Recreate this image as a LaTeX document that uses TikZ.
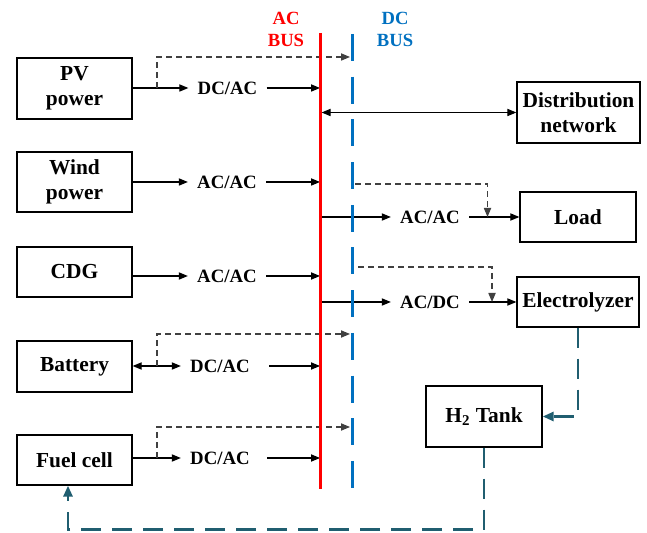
\documentclass[tikz,border=0pt]{standalone}
\usepackage{fontspec}
\setmainfont{Liberation Serif}
\usepackage{tikz}
\usetikzlibrary{arrows.meta,positioning}
\definecolor{acRed}{RGB}{255,0,0}
\definecolor{dcBlue}{RGB}{0,112,192}
\definecolor{h2Teal}{RGB}{32,94,112}
\tikzset{
  unit/.style={draw,line width=0.65pt,align=center,inner sep=1pt,
               font=\fontsize{10.7}{12.5}\selectfont\bfseries},
  conv/.style={inner xsep=4.5pt,inner ysep=1pt,
               font=\fontsize{9.4}{11}\selectfont\bfseries},
  buslbl/.style={align=center,inner sep=0pt,
                 font=\fontsize{9.3}{11}\selectfont\bfseries},
  arr/.style={-{Triangle[length=4.5pt,width=3.6pt]},line width=0.55pt},
  barr/.style={{Triangle[length=4.5pt,width=3.6pt]}-{Triangle[length=4.5pt,width=3.6pt]},line width=0.55pt},
  darr/.style={arr,black!75,dash pattern=on 3pt off 2pt},
  harr/.style={-{Triangle[length=5.5pt,width=4.5pt]},h2Teal,line width=1.35pt,
               dash pattern=on 10pt off 5.5pt},
  acline/.style={acRed,line width=1.5pt},
  dcline/.style={dcBlue,line width=1.5pt,dash pattern=on 13.5pt off 7.85pt},
}

\begin{document}
\begin{tikzpicture}[x=0.5pt,y=-0.5pt]
  \useasboundingbox (0,0) rectangle (647,533);

  % sources
  \node[unit,minimum width=57.5pt,minimum height=30.5pt] (pv) at (74.5,88.5) {PV\\power};
  \node[unit,minimum width=57.5pt,minimum height=30pt] (wind) at (74.5,182) {Wind\\power};
  \node[unit,minimum width=57.5pt,minimum height=25pt] (cdg) at (74.5,272) {CDG};
  \node[unit,minimum width=57.5pt,minimum height=25.5pt] (bat) at (74.5,366.5) {Battery};
  \node[unit,minimum width=57.5pt,minimum height=25pt] (fuel) at (74.5,460) {Fuel cell};

  % loads
  \node[unit,minimum width=61.5pt,minimum height=30.5pt] (dist) at (578.5,112.5) {Distribution\\network};
  \node[unit,minimum width=58pt,minimum height=25pt] (load) at (578,217) {Load};
  \node[unit,minimum width=61pt,minimum height=25pt] (elec) at (578,302) {Electrolyzer};
  \node[unit,minimum width=58pt,minimum height=30.5pt] (htank) at (484,416.5) {H\textsubscript{2} Tank};

  % converters
  \node[conv] (pvcv) at (227.5,88) {DC/AC};
  \node[conv] (wdcv) at (227,182) {AC/AC};
  \node[conv] (cgcv) at (227,276) {AC/AC};
  \node[conv] (btcv) at (220,366) {DC/AC};
  \node[conv] (fccv) at (220,458) {DC/AC};
  \node[conv] (ldcv) at (430,217) {AC/AC};
  \node[conv] (elcv) at (430,302) {AC/DC};

  % buses
  \coordinate (actop) at (320,33);
  \coordinate (acbot) at (320,489);
  \coordinate (dctop) at (352.5,34);
  \coordinate (dcbot) at (352.5,489);
  \node[buslbl,text=acRed] (aclbl) at (286,29) {AC\\BUS};
  \node[buslbl,text=dcBlue] (dclbl) at (395,29) {DC\\BUS};

  % tap points
  \coordinate (pvtap) at (157,88);
  \coordinate (pvdc) at (350,57);
  \coordinate (bttap) at (157,366);
  \coordinate (btdc) at (350,334);
  \coordinate (fctap) at (157,458);
  \coordinate (fcdc) at (350,427);
  \coordinate (lddc) at (355,184);
  \coordinate (ldtap) at (487.5,217);
  \coordinate (eldc) at (358,267);
  \coordinate (eltap) at (492,302);

  % source side
  \draw[arr] (pv.east |- pvcv) -- (pvcv.west);
  \draw[arr] (pvcv.east) -- (pvcv.east -| actop);
  \draw[darr] (pvtap) |- (pvdc);
  \draw[arr] (wind.east |- wdcv) -- (wdcv.west);
  \draw[arr] (wdcv.east) -- (wdcv.east -| actop);
  \draw[arr] (cdg.east |- cgcv) -- (cgcv.west);
  \draw[arr] (cgcv.east) -- (cgcv.east -| actop);
  \draw[barr] (bat.east |- btcv) -- (btcv.west);
  \draw[arr] ([xshift=5pt]btcv.east) -- (btcv.east -| actop);
  \draw[darr] (bttap) |- (btdc);
  \draw[arr] (fuel.east |- fccv) -- (fccv.west);
  \draw[arr] ([xshift=4pt]fccv.east) -- (fccv.east -| actop);
  \draw[darr] (fctap) |- (fcdc);

  % load side
  \draw[barr] ([xshift=0.8pt]dist.west -| actop) -- (dist.west);
  \draw[arr] (ldcv.west -| actop) -- (ldcv.west);
  \draw[arr] (ldcv.east) -- (load.west);
  \draw[darr] (lddc) -| (ldtap);
  \draw[arr] (elcv.west -| actop) -- (elcv.west);
  \draw[arr] (elcv.east) -- (elec.west);
  \draw[darr] (eldc) -| (eltap);

  % hydrogen loop
  \draw[harr] (elec.south) |- (htank.east);
  \draw[harr] (htank.south) -- ++(0,82) -| ([xshift=-3.25pt]fuel.south);

  \draw[acline] (actop) -- (acbot);
  \draw[dcline] (dctop) -- (dcbot);
\end{tikzpicture}
\end{document}
